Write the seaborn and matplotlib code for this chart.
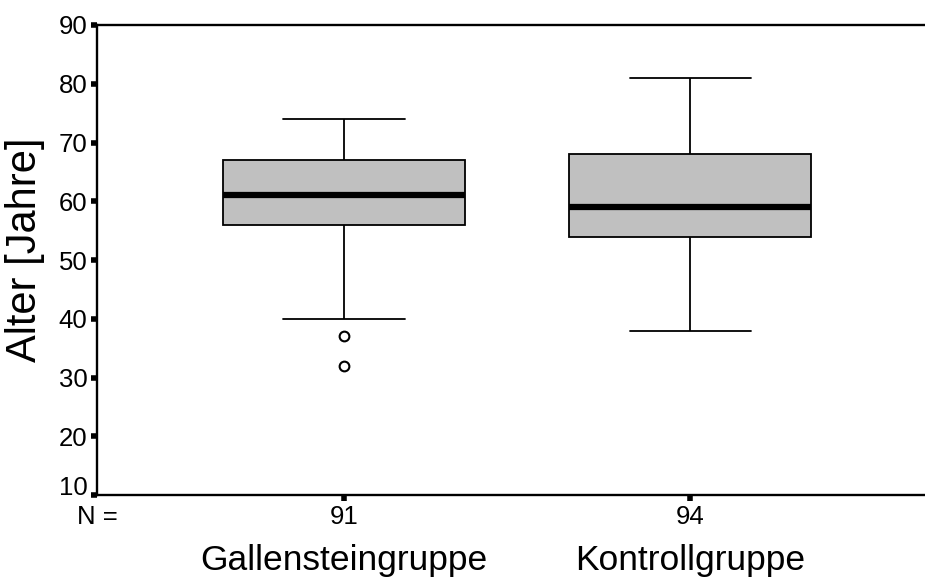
import matplotlib
matplotlib.use("Agg")
import matplotlib.pyplot as plt
import matplotlib.transforms as mtransforms
import seaborn as sns
import pandas as pd

# ---- data ----
groups = ["Gallensteingruppe", "Kontrollgruppe"]
n_counts = ["91", "94"]
whisker_low = [40, 38]
q1 = [56, 54]
median = [61, 59]
q3 = [67, 68]
whisker_high = [74, 81]
outlier_group = ["Gallensteingruppe", "Gallensteingruppe"]
outlier_values = [37, 32]
y_ticks = [10, 20, 30, 40, 50, 60, 70, 80, 90]

sns.set_style("white")
plt.rcParams["font.family"] = ["Liberation Sans", "DejaVu Sans"]
plt.rcParams["text.color"] = "black"
plt.rcParams["axes.labelcolor"] = "black"
plt.rcParams["xtick.color"] = "black"
plt.rcParams["ytick.color"] = "black"

rows = []
for g, a, b, c, d, e in zip(groups, whisker_low, q1, median, q3, whisker_high):
    for v in (a, b, c, d, e):
        rows.append({"group": g, "value": v})
df = pd.DataFrame(rows)
out_df = pd.DataFrame({"group": outlier_group, "value": outlier_values})

fig = plt.figure(figsize=(9.25, 5.77), dpi=100)
ax = fig.add_axes([97 / 925, 1 - 495 / 577, 1 - 97 / 925, (495 - 25) / 577])

sns.boxplot(data=df, x="group", y="value", order=groups, whis=(0, 100),
            width=0.70, color="#c0c0c0", saturation=1, linecolor="black",
            linewidth=1.3, showfliers=False,
            medianprops=dict(linewidth=4.5, color="black"), ax=ax)
sns.stripplot(data=out_df, x="group", y="value", order=groups, jitter=False,
              color="white", edgecolor="black", linewidth=1.5, size=7,
              marker="o", ax=ax, zorder=5)

ax.set_xlim(-0.714, 1.679)
ax.set_ylim(10, 90)
ax.set_yticks(y_ticks)
ax.set_yticklabels([str(t) for t in y_ticks], fontsize=18.5)
ax.set_xticks(range(len(groups)))
ax.set_xticklabels(n_counts, fontsize=18.5)
ax.set_xlabel("")
ax.set_ylabel("Alter [Jahre]", fontsize=30)
ax.yaxis.set_label_coords((45 - 97) / 828, (495 - 249.5) / 470)

# lowest y tick label sits above its tick (as in the reference)
ax.get_yticklabels()[0].set_verticalalignment("baseline")

for s in ("left", "bottom", "top"):
    ax.spines[s].set_visible(True)
    ax.spines[s].set_color("black")
    ax.spines[s].set_linewidth(1.7)
ax.spines["right"].set_visible(False)

ax.tick_params(axis="both", which="major", direction="out", length=4,
               width=4, color="black", left=True, bottom=True, pad=3)

# N = label and category names
fig.text(97 / 925, 1 - 517 / 577, "N =", fontsize=18.5, ha="center", va="center")
trans = mtransforms.blended_transform_factory(ax.transData, fig.transFigure)
for i, g in enumerate(groups):
    ax.text(i, 1 - 570 / 577, g, transform=trans, fontsize=25.5,
            ha="center", va="baseline")

fig.savefig("out.png", dpi=100)
